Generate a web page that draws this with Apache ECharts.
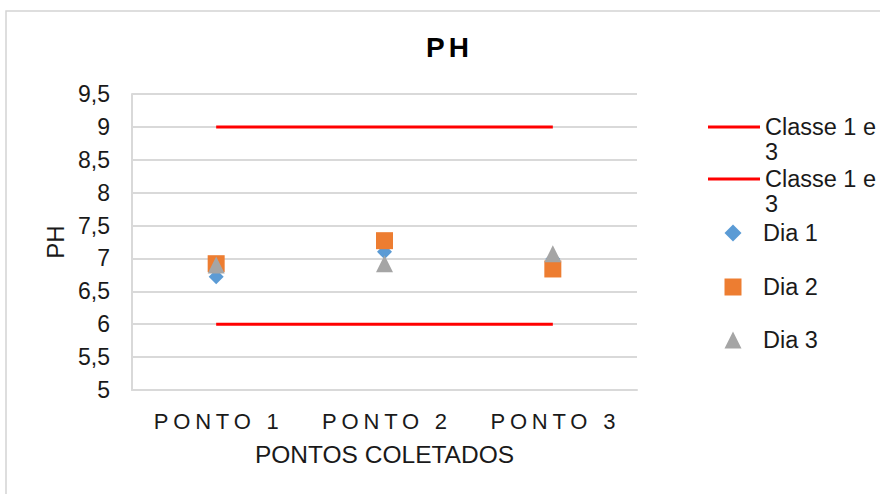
<!DOCTYPE html>
<html>
<head>
<meta charset="utf-8">
<script src="https://cdn.jsdelivr.net/npm/echarts@6/dist/echarts.min.js"></script>
<style>
  html, body { margin: 0; padding: 0; background: #ffffff; }
  #chart { width: 880px; height: 494px; }
</style>
</head>
<body>
<div id="chart"></div>
<script>
// Sampling points and pH readings per day
const categories = ['PONTO 1', 'PONTO 2', 'PONTO 3'];
const classeMax = [9, 9, 9];
const classeMin = [6, 6, 6];
const dia1 = [6.72, 7.10, 6.99];
const dia2 = [6.92, 7.27, 6.84];
const dia3 = [6.90, 6.92, 7.07];

const titleText = 'PH';
const xName = 'PONTOS COLETADOS';
const yName = 'PH';
const classeName = 'Classe 1 e 3';
const yMin = 5, yMax = 9.5, yStep = 0.5;

const FONT = "'Liberation Sans', Arial, sans-serif";
const TXT = '#1a1a1a';
const GRID = '#d9d9d9';

const chart = echarts.init(document.getElementById('chart'), null, { renderer: 'svg' });

function lineLegend(top) {
  return {
    left: 708, top: top, padding: 0, orient: 'vertical',
    itemWidth: 52, itemHeight: 3,
    selectedMode: false,
    data: [{ name: classeName, icon: 'rect', itemStyle: { color: '#ff0000' } }],
    formatter: () => '\nClasse 1 e\n3',
    textStyle: { fontFamily: FONT, fontSize: 23.5, color: TXT, lineHeight: 25 }
  };
}
function markLegend(name, icon, top) {
  return {
    left: 724.5, top: top, padding: 0, orient: 'vertical',
    itemWidth: 17, itemHeight: 17,
    selectedMode: false,
    data: [{ name: name, icon: icon }],
    textStyle: { fontFamily: FONT, fontSize: 23.5, color: TXT, lineHeight: 25, padding: [0, 0, 0, 16.5] }
  };
}

const option = {
  animation: false,
  backgroundColor: '#ffffff',
  title: {
    text: titleText, left: 426, top: 33, padding: 0,
    textStyle: { fontFamily: FONT, fontSize: 28, fontWeight: 'bold', color: '#000' }
  },
  graphic: [{
    type: 'rect', silent: true,
    shape: { x: 6, y: 11, width: 900, height: 520 },
    style: { fill: 'none', stroke: '#d4d4d4', lineWidth: 1.5 }
  }],
  legend: [
    lineLegend(89.5),
    lineLegend(141.5),
    markLegend('Dia 1', 'diamond', 220.5),
    markLegend('Dia 2', 'rect', 274.5),
    markLegend('Dia 3', 'triangle', 327.5)
  ],
  grid: { left: 132, right: 243, top: 94, bottom: 104, containLabel: false },
  xAxis: {
    type: 'category', data: categories, boundaryGap: true,
    name: xName, nameLocation: 'middle', nameGap: 52,
    nameTextStyle: { fontFamily: FONT, fontSize: 24.5, color: TXT },
    axisLine: { lineStyle: { color: GRID, width: 2 } },
    axisTick: { show: false },
    axisLabel: { fontFamily: FONT, fontSize: 22, color: TXT, margin: 20, padding: [0, 0, 0, 5] }
  },
  yAxis: {
    type: 'value', min: yMin, max: yMax, interval: yStep,
    name: yName, nameLocation: 'middle', nameGap: 64,
    nameTextStyle: { fontFamily: FONT, fontSize: 24, color: TXT },
    axisLine: { show: true, lineStyle: { color: GRID, width: 2 } },
    axisTick: { show: false },
    splitLine: { lineStyle: { color: GRID, width: 2 } },
    axisLabel: {
      fontFamily: FONT, fontSize: 23, color: TXT, margin: 22,
      formatter: v => String(v).replace('.', ',')
    }
  },
  series: [
    { name: classeName, type: 'line', data: classeMax, symbol: 'none',
      lineStyle: { color: '#ff0000', width: 3 }, itemStyle: { color: '#ff0000' } },
    { name: classeName, type: 'line', data: classeMin, symbol: 'none',
      lineStyle: { color: '#ff0000', width: 3 }, itemStyle: { color: '#ff0000' } },
    { name: 'Dia 1', type: 'scatter', data: dia1, symbol: 'diamond', symbolSize: [15, 15],
      itemStyle: { color: '#5b9bd5', opacity: 1 } },
    { name: 'Dia 2', type: 'scatter', data: dia2, symbol: 'rect', symbolSize: 17,
      itemStyle: { color: '#ed7d31', opacity: 1 } },
    { name: 'Dia 3', type: 'scatter', data: dia3, symbol: 'triangle', symbolSize: 17,
      itemStyle: { color: '#a5a5a5', opacity: 1 } }
  ]
};

chart.setOption(option);

// Spaced lettering for the category labels and the title
function applySpacing() {
  const texts = document.querySelectorAll('#chart text');
  texts.forEach(t => {
    const s = t.textContent;
    if (categories.indexOf(s) >= 0) t.setAttribute('letter-spacing', '4.8');
    else if (s === titleText && t.getAttribute('style') && /bold/.test(t.getAttribute('style'))) t.setAttribute('letter-spacing', '4');
  });
}
chart.getZr().refreshImmediately();
applySpacing();
chart.on('finished', applySpacing);
</script>
</body>
</html>
